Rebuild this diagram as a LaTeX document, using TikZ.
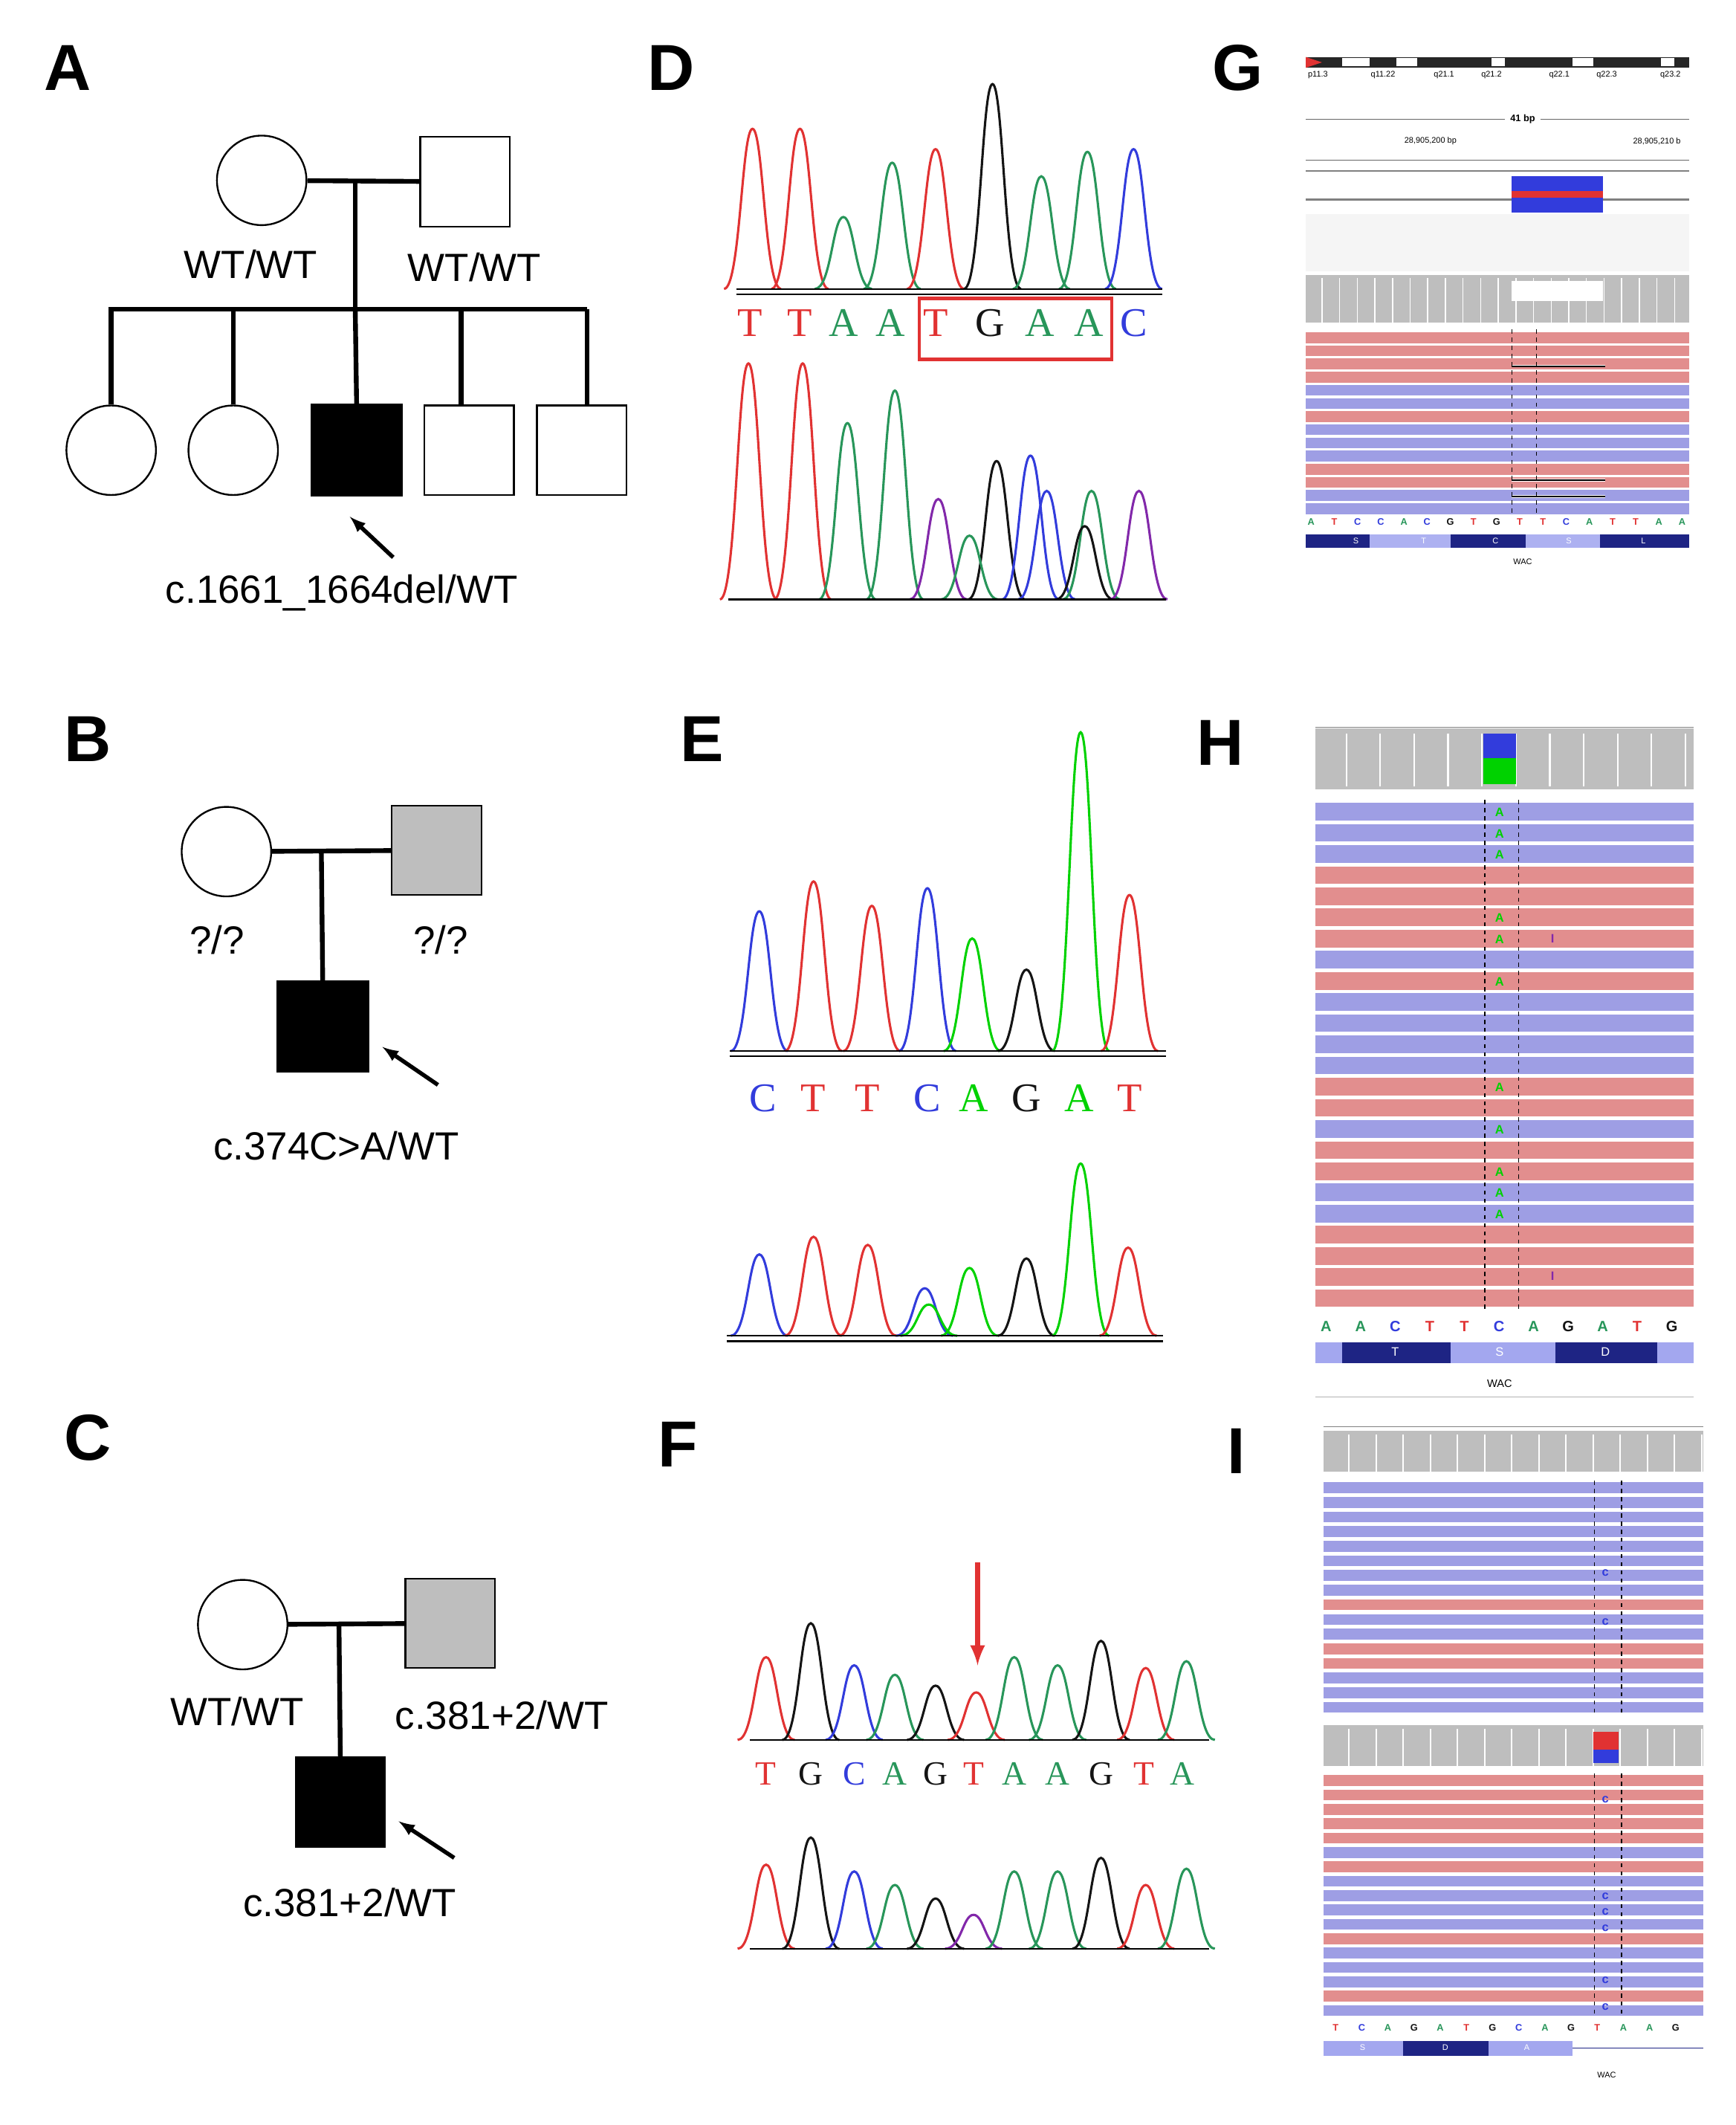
\documentclass[tikz,border=0pt]{standalone}
\usepackage{fontspec}
\setmainfont{Liberation Sans}
\newfontfamily\seqf{Liberation Serif}
\definecolor{pr}{RGB}{225,50,50}
\definecolor{pg}{RGB}{40,150,90}
\definecolor{pb}{RGB}{50,60,220}
\definecolor{pk}{RGB}{20,20,20}
\definecolor{pp}{RGB}{130,40,170}
\definecolor{gr}{RGB}{0,210,0}
\definecolor{rpink}{RGB}{226,142,142}
\definecolor{rblue}{RGB}{158,158,228}
\definecolor{covg}{RGB}{190,190,190}
\definecolor{gsq}{RGB}{190,190,190}
\newcommand\pkk[4]{\draw[#1,line width=1.7] (#2-21,#4) .. controls (#2-9,#4) and (#2-8,#3) .. (#2,#3) .. controls (#2+8,#3) and (#2+9,#4) .. (#2+21,#4);}
\newcommand\seqA[4]{\node[seq,text=#1] at (#2,#3) {#4};}
\begin{document}
\begin{tikzpicture}[x=1pt,y=-1pt,
 ped/.style={line width=3.5pt},
 ind/.style={draw,line width=1.3pt},
 lab/.style={font=\fontsize{29}{33}\selectfont,inner sep=0},
 plab/.style={font=\fontsize{48}{52}\selectfont\bfseries,inner sep=0},
 seq/.style={font=\fontsize{30}{32}\seqf,inner sep=0},
 sseq/.style={font=\fontsize{9}{10}\selectfont\bfseries,inner sep=0},
 tiny/.style={font=\fontsize{6}{7}\selectfont,inner sep=0},
 arr/.style={-latex,line width=3pt}]
\useasboundingbox (0,0) rectangle (1280,1567);
\fill[white] (0,0) rectangle (1280,1567);
% ---------- A ----------
\node[plab] (lA) at (50,50) {A};
\node[ind,circle,minimum size=66pt,inner sep=0] (a1) at (193,133) {};
\node[ind,minimum size=66pt,inner sep=0] (a2) at (343,134) {};
\draw[ped] (a1) -- (a2);
\coordinate (am) at (262,133); \coordinate (ab) at (262,228);
\draw[ped] (am) -- (ab);
\draw[ped] (80,228) -- (433,228);
\node[ind,circle,minimum size=66pt,inner sep=0] (c1) at (82,332) {};
\node[ind,circle,minimum size=66pt,inner sep=0] (c2) at (172,332) {};
\node[ind,fill=black,minimum size=67pt,inner sep=0] (c3) at (263,332) {};
\node[ind,minimum size=66pt,inner sep=0] (c4) at (346,332) {};
\node[ind,minimum size=66pt,inner sep=0] (c5) at (429,332) {};
\draw[ped] (82,228) -- (c1.north);
\draw[ped] (172,228) -- (c2.north);
\draw[ped] (ab) -- (c3.north);
\draw[ped] (340,228) -- (340,299);
\draw[ped] (433,228) -- (433,299);
\node[lab] (wa1) at (185,195) {WT/WT};
\node[lab] (wa2) at (350,197) {WT/WT};
\coordinate (aa) at (290,411); \coordinate (ae) at (258,381);
\draw[arr] (aa) -- (ae);
\node[lab] (ta) at (252,437) {c.1661\_1664del/WT};
% ---------- B ----------
\node[plab] (lB) at (65,545) {B};
\node[ind,circle,minimum size=66pt,inner sep=0] (b1) at (167,628) {};
\node[ind,fill=gsq,minimum size=66pt,inner sep=0] (b2) at (322,627) {};
\draw[ped] (b1) -- (b2);
\node[ind,fill=black,minimum size=67pt,inner sep=0] (b3) at (238,757) {};
\draw[ped] (237,628) -- (b3.north);
\node[lab] (qb1) at (160,693) {?/?};
\node[lab] (qb2) at (325,693) {?/?};
\coordinate (ba) at (323,800); \coordinate (be) at (282,772);
\draw[arr] (ba) -- (be);
\node[lab] (tb) at (248,845) {c.374C>A/WT};
% ---------- C ----------
\node[plab] (lC) at (65,1060) {C};
\node[ind,circle,minimum size=66pt,inner sep=0] (k1) at (179,1198) {};
\node[ind,fill=gsq,minimum size=66pt,inner sep=0] (k2) at (332,1197) {};
\draw[ped] (k1) -- (k2);
\node[ind,fill=black,minimum size=66pt,inner sep=0] (k3) at (251,1329) {};
\draw[ped] (250,1198) -- (k3.north);
\node[lab] (wc1) at (175,1262) {WT/WT};
\node[lab] (wc2) at (370,1265) {c.381+2/WT};
\coordinate (ca) at (335,1370); \coordinate (ce) at (294,1343);
\draw[arr] (ca) -- (ce);
\node[lab] (tc) at (258,1403) {c.381+2/WT};
% ---------- D ----------
\node[plab] (lD) at (495,50) {D};
\pkk{pr}{555}{95}{213}\pkk{pr}{590}{95}{213}\pkk{pg}{622}{160}{213}\pkk{pg}{658}{120}{213}
\pkk{pr}{690}{110}{213}\pkk{pk}{732}{62}{213}\pkk{pg}{768}{130}{213}\pkk{pg}{802}{112}{213}\pkk{pb}{836}{110}{213}
\draw[line width=1.2] (543,213) -- (857,213); \draw[line width=1.2] (543,217) -- (857,217);
\seqA{pr}{553}{238}{T}\seqA{pr}{590}{238}{T}\seqA{pg}{622}{238}{A}\seqA{pg}{657}{238}{A}\seqA{pr}{690}{238}{T}
\seqA{pk}{730}{238}{G}\seqA{pg}{767}{238}{A}\seqA{pg}{803}{238}{A}\seqA{pb}{836}{238}{C}
\draw[pr,line width=2.5] (678,220) rectangle (820,265);
\pkk{pr}{552}{268}{442}\pkk{pr}{592}{268}{442}\pkk{pg}{625}{312}{442}\pkk{pg}{660}{288}{442}
\pkk{pp}{692}{368}{442}\pkk{pk}{735}{340}{442}\pkk{pb}{760}{336}{442}\pkk{pb}{772}{362}{442}
\pkk{pg}{805}{362}{442}\pkk{pk}{800}{388}{442}\pkk{pp}{840}{362}{442}\pkk{pg}{715}{395}{442}
\draw[line width=1.2] (537,442) -- (860,442);
% ---------- E ----------
\node[plab] (lE) at (518,545) {E};
\pkk{pb}{560}{672}{775}\pkk{pr}{600}{650}{775}\pkk{pr}{643}{668}{775}\pkk{pb}{684}{655}{775}
\pkk{gr}{717}{692}{775}\pkk{pk}{757}{715}{775}\pkk{gr}{797}{540}{775}\pkk{pr}{833}{660}{775}
\draw[line width=1.2] (538,775) -- (860,775); \draw[line width=1.2] (538,779) -- (860,779);
\seqA{pb}{563}{810}{C}\seqA{pr}{600}{810}{T}\seqA{pr}{640}{810}{T}\seqA{pb}{684}{810}{C}
\seqA{gr}{718}{810}{A}\seqA{pk}{757}{810}{G}\seqA{gr}{796}{810}{A}\seqA{pr}{833}{810}{T}
\pkk{pb}{560}{925}{985}\pkk{pr}{600}{912}{985}\pkk{pr}{640}{918}{985}\pkk{pb}{682}{950}{985}
\pkk{gr}{685}{962}{985}\pkk{gr}{715}{935}{985}\pkk{pk}{757}{928}{985}\pkk{gr}{797}{858}{985}\pkk{pr}{832}{920}{985}
\draw[line width=1.2] (536,985) -- (858,985); \draw[line width=1.2] (536,989) -- (858,989);
% ---------- F ----------
\node[plab] (lF) at (500,1065) {F};
\coordinate (fa) at (721,1152); \coordinate (fe) at (721,1228);
\draw[-latex,pr,line width=4] (fa) -- (fe);
\pkk{pr}{565}{1222}{1283}\pkk{pk}{598}{1197}{1283}\pkk{pb}{630}{1228}{1283}\pkk{pg}{660}{1235}{1283}
\pkk{pk}{690}{1243}{1283}\pkk{pr}{720}{1248}{1283}\pkk{pg}{748}{1222}{1283}\pkk{pg}{780}{1228}{1283}
\pkk{pk}{812}{1210}{1283}\pkk{pr}{845}{1230}{1283}\pkk{pg}{875}{1225}{1283}
\draw[line width=1.2] (553,1283) -- (892,1283);
\foreach \c/\x/\l in {pr/565/T,pk/598/G,pb/630/C,pg/660/A,pk/690/G,pr/718/T,pg/748/A,pg/780/A,pk/812/G,pr/844/T,pg/872/A}
  \node[seq,font=\fontsize{25}{27}\seqf,text=\c] at (\x,1308) {\l};
\pkk{pr}{565}{1375}{1437}\pkk{pk}{598}{1355}{1437}\pkk{pb}{630}{1380}{1437}\pkk{pg}{660}{1390}{1437}
\pkk{pk}{690}{1400}{1437}\pkk{pp}{718}{1412}{1437}\pkk{pg}{748}{1380}{1437}\pkk{pg}{780}{1380}{1437}
\pkk{pk}{812}{1370}{1437}\pkk{pr}{845}{1390}{1437}\pkk{pg}{875}{1378}{1437}
\draw[line width=1.2] (553,1437) -- (892,1437);
% ---------- G ----------
\node[plab] (lG) at (913,50) {G};
\fill[black!85] (963,42) rectangle (1246,50);
\foreach \a/\b in {990/1010,1030/1045,1100/1110,1160/1175,1225/1235} \fill[white] (\a,43) rectangle (\b,49);
\fill[pr] (963,42) -- (975,46) -- (963,50) -- cycle;
\foreach \x/\t in {972/p11.3,1020/q11.22,1065/q21.1,1100/q21.2,1150/q22.1,1185/q22.3,1232/q23.2}
 \node[tiny] at (\x,55) {\t};
\draw[black!60] (963,88) -- (1110,88); \draw[black!60] (1136,88) -- (1246,88);
\node[tiny,font=\fontsize{7}{8}\selectfont\bfseries] at (1123,88) {41 bp};
\draw[black!60] (963,118) -- (1246,118);
\node[tiny] at (1055,104) {28,905,200 bp}; \node[tiny] at (1222,104) {28,905,210 b};
\draw[black!50,line width=1.5] (963,126) -- (1246,126);
\draw[black!50,line width=1.5] (963,147) -- (1246,147);
\fill[pb] (1115,130) rectangle (1182,157);
\fill[pr] (1115,141) rectangle (1182,146);
\fill[black!4] (963,158) rectangle (1246,200);
\fill[covg] (963,203) rectangle (1246,238);
\foreach \x in {975,988,...,1245} \draw[white,line width=0.8] (\x,205) -- (\x,238);
\fill[white] (1115,207) rectangle (1182,222);
\foreach \i/\c in {0/rpink,1/rpink,2/rpink,3/rpink,4/rblue,5/rblue,6/rpink,7/rblue,8/rblue,9/rblue,10/rpink,11/rpink,12/rblue,13/rblue}
 \fill[\c] (963,245+\i*9.7) rectangle (1246,253+\i*9.7);
\draw[white,line width=2] (1115,270) -- (1184,270); \draw[black,line width=1] (1115,270) -- (1184,270);
\draw[white,line width=2] (1115,354) -- (1184,354); \draw[black,line width=1] (1115,354) -- (1184,354);
\draw[white,line width=2] (1115,366) -- (1184,366); \draw[black,line width=1] (1115,366) -- (1184,366);
\draw[dashed,black] (1115,243) -- (1115,378); \draw[dashed,black] (1133,243) -- (1133,378);
\foreach \x/\c/\l in {0/pg/A,1/pr/T,2/pb/C,3/pb/C,4/pg/A,5/pb/C,6/pk/G,7/pr/T,8/pk/G,9/pr/T,10/pr/T,11/pb/C,12/pg/A,13/pr/T,14/pr/T,15/pg/A,16/pg/A}
 \node[sseq,text=\c,font=\fontsize{7}{8}\selectfont\bfseries] at (967+\x*17.1,385) {\l};
\fill[pb!60!black] (963,394) rectangle (1246,404);
\fill[pb!40] (1010,394) rectangle (1070,404); \fill[pb!40] (1125,394) rectangle (1180,404);
\foreach \x/\l in {1000/S,1050/T,1103/C,1157/S,1212/L} \node[tiny,text=white] at (\x,399) {\l};
\node[tiny] at (1123,414) {WAC};
% ---------- H ----------
\node[plab] (lH) at (900,548) {H};
\fill[covg] (970,537) rectangle (1249,582);
\draw[black!50] (970,536) -- (1249,536);
\foreach \x in {993,1018,...,1249} \draw[white,line width=1.2] (\x,541) -- (\x,580);
\fill[pb] (1094,541) rectangle (1118,559);
\fill[gr] (1094,559) rectangle (1118,578);
\foreach \i/\c in {0/rblue,1/rblue,2/rblue,3/rpink,4/rpink,5/rpink,6/rpink,7/rblue,8/rpink,9/rblue,10/rblue,11/rblue,12/rblue,13/rpink,14/rpink,15/rblue,16/rpink,17/rpink,18/rblue,19/rblue,20/rpink,21/rpink,22/rpink,23/rpink}
 \fill[\c] (970,592+\i*15.6) rectangle (1249,605+\i*15.6);
\draw[dashed,black,line width=0.8] (1095,590) -- (1095,965); \draw[dashed,black,line width=0.8] (1120,590) -- (1120,965);
\foreach \i in {0,1,2,5,6,8,13,15,17,18,19} \node[sseq,text=gr] at (1106,599+\i*15.6) {A};
\node[sseq,text=pp] at (1145,692) {I}; \node[sseq,text=pp] at (1145,941) {I};
\foreach \x/\c/\l in {0/pg/A,1/pg/A,2/pb/C,3/pr/T,4/pr/T,5/pb/C,6/pg/A,7/pk/G,8/pg/A,9/pr/T,10/pk/G}
 \node[sseq,text=\c,font=\fontsize{11}{12}\selectfont\bfseries] at (978+\x*25.5,978) {\l};
\fill[pb!60!black] (970,990) rectangle (1249,1005);
\fill[pb!45] (1070,990) rectangle (1147,1005); \fill[pb!45] (970,990) rectangle (990,1005); \fill[pb!45] (1222,990) rectangle (1249,1005);
\foreach \x/\l in {1029/T,1106/S,1184/D} \node[tiny,font=\fontsize{9}{10}\selectfont,text=white] at (\x,997) {\l};
\draw[black!30] (970,1030) -- (1249,1030);
\node[tiny,font=\fontsize{8}{9}\selectfont] at (1106,1020) {WAC};
% ---------- I ----------
\node[plab] (lI) at (912,1070) {I};
\draw[black!50] (976,1052) -- (1256,1052);
\fill[covg] (976,1055) rectangle (1256,1085);
\foreach \x in {995,1015,...,1256} \draw[white,line width=1.2] (\x,1058) -- (\x,1085);
\foreach \i/\c in {0/rblue,1/rblue,2/rblue,3/rblue,4/rblue,5/rblue,6/rblue,7/rblue,8/rpink,9/rblue,10/rblue,11/rpink,12/rpink,13/rblue,14/rblue,15/rblue}
 \fill[\c] (976,1093+\i*10.8) rectangle (1256,1101+\i*10.8);
\draw[dashed,black,line width=0.7] (1176,1092) -- (1176,1265); \draw[dashed,black,line width=0.7] (1196,1092) -- (1196,1265);
\node[sseq,text=pb] at (1184,1160) {c}; \node[sseq,text=pb] at (1184,1196) {c};
\fill[covg] (976,1272) rectangle (1256,1302);
\foreach \x in {995,1015,...,1256} \draw[white,line width=1.2] (\x,1275) -- (\x,1302);
\fill[pr] (1175,1277) rectangle (1194,1290); \fill[pb] (1175,1290) rectangle (1194,1300);
\foreach \i/\c in {0/rpink,1/rpink,2/rpink,3/rpink,4/rpink,5/rblue,6/rpink,7/rblue,8/rblue,9/rblue,10/rblue,11/rpink,12/rblue,13/rblue,14/rblue,15/rpink,16/rblue}
 \fill[\c] (976,1309+\i*10.6) rectangle (1256,1317+\i*10.6);
\draw[dashed,black,line width=0.7] (1176,1308) -- (1176,1487); \draw[dashed,black,line width=0.7] (1196,1308) -- (1196,1487);
\foreach \y in {1327,1398,1410,1422,1460,1480} \node[sseq,text=pb] at (1184,\y) {c};
\foreach \x/\c/\l in {0/pr/T,1/pb/C,2/pg/A,3/pk/G,4/pg/A,5/pr/T,6/pk/G,7/pb/C,8/pg/A,9/pk/G,10/pr/T,11/pg/A,12/pg/A,13/pk/G}
 \node[sseq,text=\c,font=\fontsize{7}{8}\selectfont\bfseries] at (985+\x*19.3,1495) {\l};
\fill[pb!45] (976,1505) rectangle (1160,1516);
\fill[pb!60!black] (1035,1505) rectangle (1098,1516);
\draw[pb!60!black] (1160,1510) -- (1256,1510);
\foreach \x/\l in {1005/S,1066/D,1126/A} \node[tiny,text=white] at (\x,1510) {\l};
\node[tiny] at (1185,1530) {WAC};
\end{tikzpicture}
\end{document}
